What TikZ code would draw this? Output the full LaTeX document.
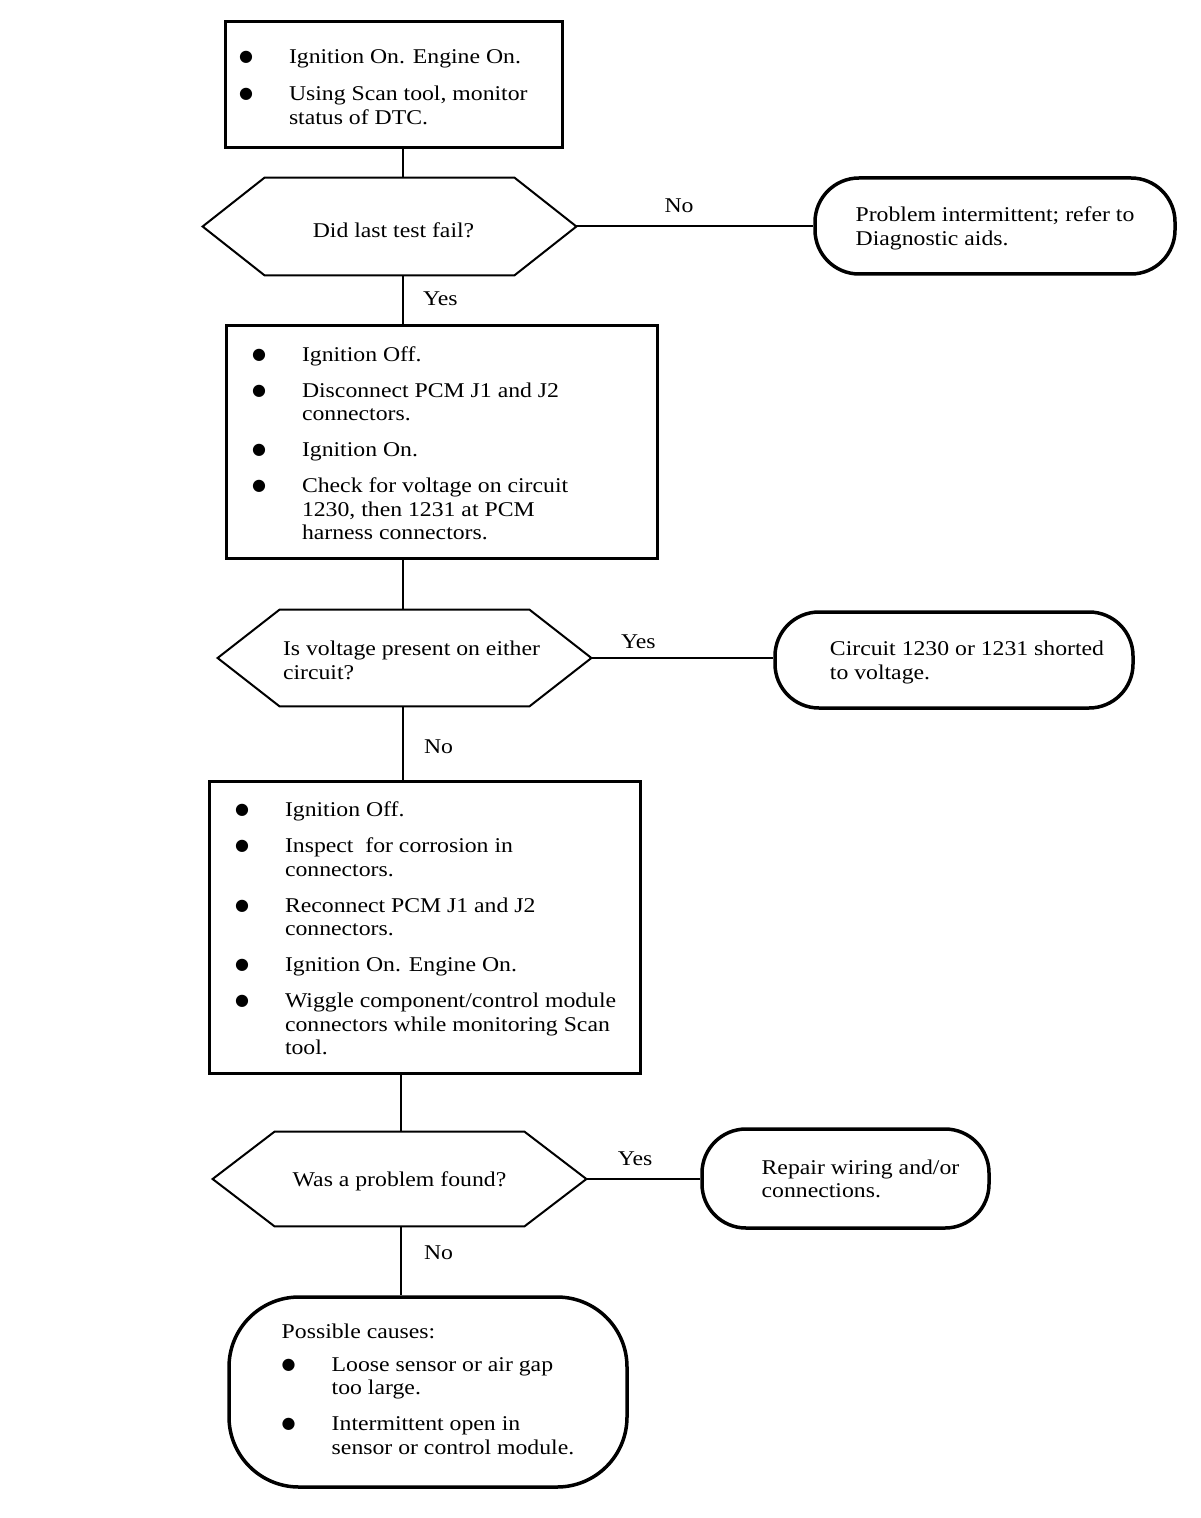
\documentclass[tikz,border=0pt]{standalone}
\usepackage{fontspec}
\setmainfont{Liberation Serif}[FakeStretch=1.13]
\newfontfamily\bltfont{DejaVu Sans}
\usepackage{array}
\newcommand\blt{\raisebox{1pt}{\bltfont\fontsize{8}{8}\selectfont ●}}
\newcommand\steps[3]{\raisebox{-2pt}[\height][\depth]{\makebox[#1][l]{\hspace{#2}\begin{tabular}{@{}p{25pt}@{}l@{}}#3\end{tabular}}}}
\newcommand\padtext[3][1.5pt]{\raisebox{-#1}[\height][\depth]{\begin{tabular}{@{\hspace{#2}}l@{}}#3\end{tabular}}}
\tikzset{
  stepbox/.style={draw,line width=1.5pt,inner sep=0pt},
  decision/.style={inner sep=0pt,minimum width=186.5pt,align=left},
  endbox/.style={draw,line width=1.75pt,rounded corners=22pt,align=left,inner sep=0pt},
  conn/.style={line width=1pt},
  lbl/.style={inner sep=0pt,anchor=base west},
}
\begin{document}
\begin{tikzpicture}[x=0.5pt,y=-0.5pt,font=\fontsize{10.5}{11.75}\selectfont]
\useasboundingbox(0,0)rectangle(1200,1518);
\coordinate(sp1)at(403,0);
\coordinate(sp2)at(401,0);
% boxes
\node[stepbox,minimum height=63pt](b1)at(393.5,85){\steps{168.5pt}{7pt}{%
\blt&Ignition On. Engine On.\\[7pt]
\blt&Using Scan tool, monitor\\
&status of DTC.}};
\node[stepbox,minimum height=116pt](b2)at(441.5,442){\steps{215.5pt}{13pt}{%
\blt&Ignition Off.\\[6.25pt]
\blt&Disconnect PCM J1 and J2\\
&connectors.\\[6.25pt]
\blt&Ignition On.\\[6.25pt]
\blt&Check for voltage on circuit\\
&1230, then 1231 at PCM\\
&harness connectors.}};
\node[stepbox,minimum height=146pt](b3)at(424.5,927){\steps{215.5pt}{13pt}{%
\blt&Ignition Off.\\[6.25pt]
\blt&Inspect\ \ for corrosion in\\
&connectors.\\[6.25pt]
\blt&Reconnect PCM J1 and J2\\
&connectors.\\[6.25pt]
\blt&Ignition On. Engine On.\\[6.25pt]
\blt&Wiggle component/control module\\
&connectors while monitoring Scan\\
&tool.}};
% decisions
\node[decision,minimum height=48.5pt](d1)at(389.5,226.5){\padtext[3pt]{4pt}{Did last test fail?}};
\node[decision,minimum height=48pt](d2)at(404.5,658){\padtext[2.5pt]{7pt}{Is voltage present on either\\circuit?}};
\node[decision,minimum height=47pt](d3)at(399.5,1179){\padtext{0pt}{Was a problem found?}};
\foreach \d in {d1,d2,d3}
  \draw[line width=1pt](\d.west)--([xshift=31pt]\d.north west)--([xshift=-31pt]\d.north east)
    --(\d.east)--([xshift=-31pt]\d.south east)--([xshift=31pt]\d.south west)--cycle;
% ends
\node[endbox,minimum width=180pt,minimum height=48pt](o1)at(995,226){\padtext{0pt}{Problem intermittent; refer to\\Diagnostic aids.}};
\node[endbox,minimum width=179pt,minimum height=48pt](o2)at(954,660){\padtext{13pt}{Circuit 1230 or 1231 shorted\\to voltage.}};
\node[endbox,minimum width=143.5pt,minimum height=49.5pt](o3)at(845.5,1178.5){\padtext{15pt}{Repair wiring and/or\\connections.}};
\node[endbox,rounded corners=35pt,minimum width=199pt,minimum height=95pt](o4)at(428,1392){%
\begin{tabular}{@{}p{25pt}@{}l@{}}
\multicolumn{2}{@{}l@{}}{Possible causes:}\\[4.5pt]
\blt&Loose sensor or air gap\\
&too large.\\[6.25pt]
\blt&Intermittent open in\\
&sensor or control module.
\end{tabular}};
% connectors
\draw[conn](b1.south-|sp1)--(d1.north-|sp1);
\draw[conn](d1.east)--(d1.east-|o1.west)node[lbl,pos=0.368,yshift=7pt]{No};
\draw[conn](d1.south-|sp1)--(b2.north-|sp1)node[lbl,pos=0.62,xshift=9.5pt]{Yes};
\draw[conn](b2.south-|sp1)--(d2.north-|sp1);
\draw[conn](d2.east)--(d2.east-|o2.west)node[lbl,pos=0.158,yshift=5pt]{Yes};
\draw[conn](d2.south-|sp1)--(b3.north-|sp1)node[lbl,pos=0.64,xshift=10pt]{No};
\draw[conn](b3.south-|sp2)--(d3.north-|sp2);
\draw[conn](d3.east)--(d3.east-|o3.west)node[lbl,pos=0.267,yshift=7pt]{Yes};
\draw[conn](d3.south-|sp2)--(o4.north-|sp2)node[lbl,pos=0.48,xshift=11pt]{No};
\end{tikzpicture}
\end{document}
